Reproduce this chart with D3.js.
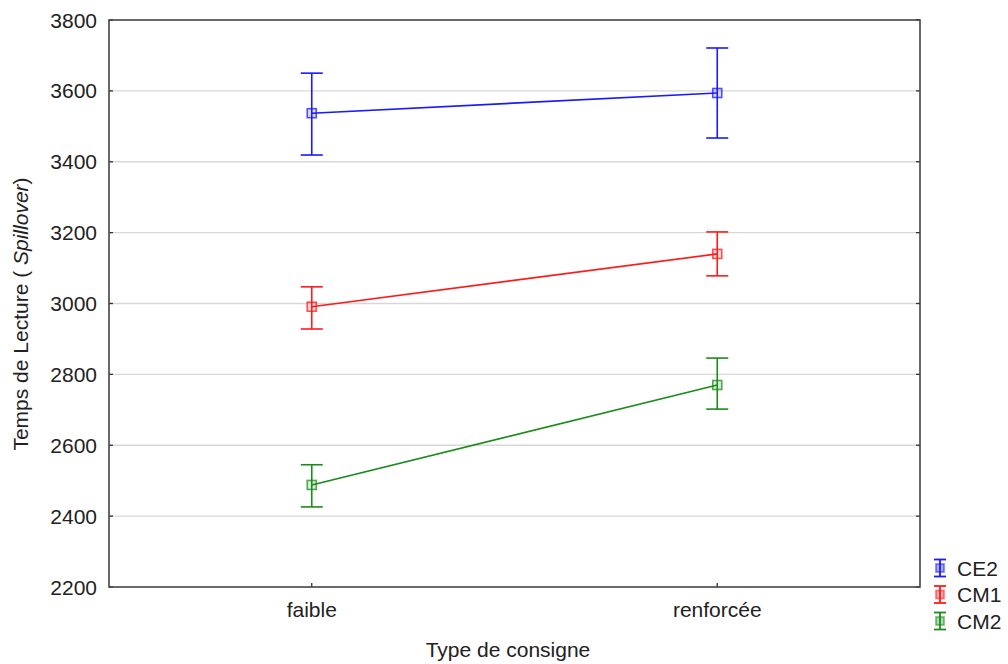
<!DOCTYPE html>
<html>
<head>
<meta charset="utf-8">
<script src="https://cdn.jsdelivr.net/npm/d3@7"></script>
<style>
  html, body { margin: 0; padding: 0; background: #fff; }
  text { font-family: "Liberation Sans", Arial, sans-serif; fill: #222; }
</style>
</head>
<body>
<svg id="chart" width="1008" height="664"></svg>
<script>
const categories = ["faible", "renforcée"];
const seriesNames = ["CE2", "CM1", "CM2"];
const seriesColors = ["#1a1aff", "#ff1a1a", "#1a8c1a"];
const means = [[3537, 3594], [2991, 3140], [2488, 2770]];
const upper = [[3650, 3721], [3047, 3202], [2545, 2846]];
const lower = [[3419, 3467], [2928, 3078], [2426, 2702]];
const yTicks = [2200, 2400, 2600, 2800, 3000, 3200, 3400, 3600, 3800];
const xTitle = "Type de consigne";

const svg = d3.select("#chart");
const L = 109, R = 920, T = 20, B = 587;
const FS = 21;

const x = d3.scalePoint().domain(categories).range([L, R]).padding(0.5);
const y = d3.scaleLinear().domain([2200, 3800]).range([B, T]);

// grid
svg.append("g").selectAll("line").data(yTicks.filter(d => d > 2200 && d < 3800)).join("line")
  .attr("x1", L).attr("x2", R).attr("y1", d => y(d)).attr("y2", d => y(d))
  .attr("stroke", "#d8d8d8").attr("stroke-width", 1.3);

// inward ticks left & right
const tk = svg.append("g");
tk.selectAll("line.l").data(yTicks).join("line").attr("class", "l")
  .attr("x1", L).attr("x2", L + 4).attr("y1", d => y(d)).attr("y2", d => y(d))
  .attr("stroke", "#333").attr("stroke-width", 1.3);
tk.selectAll("line.r").data(yTicks).join("line").attr("class", "r")
  .attr("x1", R - 4).attr("x2", R).attr("y1", d => y(d)).attr("y2", d => y(d))
  .attr("stroke", "#333").attr("stroke-width", 1.3);
tk.selectAll("line.b").data(categories).join("line").attr("class", "b")
  .attr("x1", d => x(d)).attr("x2", d => x(d)).attr("y1", B).attr("y2", B - 4)
  .attr("stroke", "#333").attr("stroke-width", 1.3);

// y tick labels
svg.append("g").selectAll("text").data(yTicks).join("text")
  .attr("x", 97).attr("y", d => y(d) + 7.5).attr("text-anchor", "end")
  .attr("font-size", FS).text(d => d);

// x tick labels
svg.append("g").selectAll("text").data(categories).join("text")
  .attr("x", d => x(d)).attr("y", 617).attr("text-anchor", "middle")
  .attr("font-size", FS).text(d => d);

// titles
svg.append("text").attr("x", 508).attr("y", 657).attr("text-anchor", "middle")
  .attr("font-size", FS).text(xTitle);
const yt = svg.append("text").attr("transform", "translate(28,314) rotate(-90)")
  .attr("text-anchor", "middle").attr("font-size", FS);
yt.append("tspan").text("Temps de Lecture ( ");
yt.append("tspan").attr("font-style", "italic").text("Spillover");
yt.append("tspan").text(")");

// series
seriesNames.forEach((name, i) => {
  const g = svg.append("g");
  const col = seriesColors[i];
  const pts = categories.map((c, j) => ({ c, m: means[i][j], u: upper[i][j], l: lower[i][j] }));
  g.append("path").datum(pts)
    .attr("d", d3.line().x(d => x(d.c)).y(d => y(d.m)))
    .attr("fill", "none").attr("stroke", col).attr("stroke-width", 1.6);
  g.selectAll("line.v").data(pts).join("line").attr("class", "v")
    .attr("x1", d => x(d.c)).attr("x2", d => x(d.c)).attr("y1", d => y(d.u)).attr("y2", d => y(d.l))
    .attr("stroke", col).attr("stroke-width", 1.6);
  ["u", "l"].forEach(k => {
    g.selectAll("line.c" + k).data(pts).join("line").attr("class", "c" + k)
      .attr("x1", d => x(d.c) - 11).attr("x2", d => x(d.c) + 11)
      .attr("y1", d => y(d[k])).attr("y2", d => y(d[k]))
      .attr("stroke", col).attr("stroke-width", 1.6);
  });
  g.selectAll("rect").data(pts).join("rect")
    .attr("x", d => x(d.c) - 4.5).attr("y", d => y(d.m) - 4.5)
    .attr("width", 9).attr("height", 9)
    .attr("fill", col).attr("fill-opacity", 0.15)
    .attr("stroke", col).attr("stroke-opacity", 0.75).attr("stroke-width", 1.6);
});

// frame
svg.append("rect").attr("x", L).attr("y", T).attr("width", R - L).attr("height", B - T)
  .attr("fill", "none").attr("stroke", "#444").attr("stroke-width", 1.6);

// legend
const lg = svg.append("g");
seriesNames.forEach((name, i) => {
  const cy = 568 + i * 26.5, cx = 940, col = seriesColors[i];
  lg.append("line").attr("x1", cx).attr("x2", cx).attr("y1", cy - 8.5).attr("y2", cy + 8.5)
    .attr("stroke", col).attr("stroke-width", 1.8);
  [-8.5, 8.5].forEach(o => lg.append("line").attr("x1", cx - 6).attr("x2", cx + 6)
    .attr("y1", cy + o).attr("y2", cy + o).attr("stroke", col).attr("stroke-width", 1.8));
  lg.append("rect").attr("x", cx - 4).attr("y", cy - 4).attr("width", 8).attr("height", 8)
    .attr("fill", col).attr("fill-opacity", 0.35).attr("stroke", col).attr("stroke-opacity", 0.6).attr("stroke-width", 1.6);
  lg.append("text").attr("x", 957).attr("y", cy + 7.5).attr("font-size", FS).text(name);
});
</script>
</body>
</html>
